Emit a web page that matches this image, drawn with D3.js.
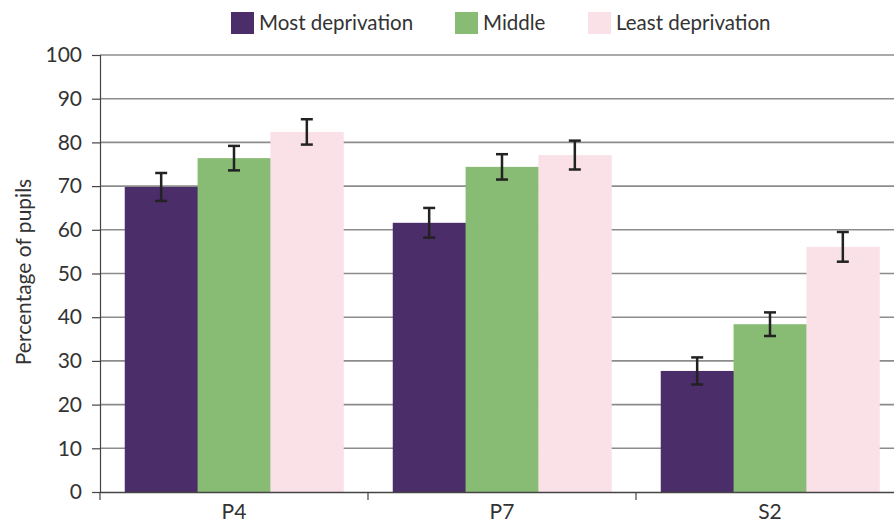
<!DOCTYPE html>
<html lang="en">
<head>
    <meta charset="utf-8">
    <title>Percentage of pupils by deprivation</title>
    <script src="https://cdn.jsdelivr.net/npm/d3@7/dist/d3.min.js"></script>
    <style>
        body { margin: 0; background: #fff; }
        text { font-family: Lato, "Open Sans", sans-serif; fill: #333; }
    </style>
</head>
<body>
<script>
    // categories and series
    var stages = ["P4", "P7", "S2"];
    var groups = ["Most deprivation", "Middle", "Least deprivation"];
    var colours = ["#4b2d69", "#88bc74", "#fae1e8"];
    // values per group, in order of stages
    var mostValues = [69.8, 61.6, 27.7];
    var middleValues = [76.4, 74.4, 38.4];
    var leastValues = [82.4, 77.1, 56.1];
    // error bar half widths
    var mostErr = [3.2, 3.4, 3.1];
    var middleErr = [2.8, 2.9, 2.7];
    var leastErr = [2.9, 3.3, 3.4];
    var yTicks = [0, 10, 20, 30, 40, 50, 60, 70, 80, 90, 100];

    var series = [mostValues, middleValues, leastValues];
    var errors = [mostErr, middleErr, leastErr];

    var width = 894, height = 522;
    var plotLeft = 100, plotTop = 55, plotBottom = 492;

    var svg = d3.select("body").append("svg")
        .attr("width", width)
        .attr("height", height);

    var x = d3.scaleBand().domain(stages).range([plotLeft, plotLeft + 804]).paddingInner(0).paddingOuter(0);
    var xg = d3.scaleBand().domain(groups).range([0, x.bandwidth()]).paddingOuter(0.34).paddingInner(0);
    var y = d3.scaleLinear().domain([0, 100]).range([plotBottom, plotTop]);

    // gridlines
    svg.append("g")
        .selectAll("line")
        .data(yTicks.filter(function (d) { return d > 0; }))
        .enter().append("line")
        .attr("x1", plotLeft).attr("x2", width)
        .attr("y1", function (d) { return y(d); })
        .attr("y2", function (d) { return y(d); })
        .attr("stroke", "#8c8c8c")
        .attr("stroke-width", 1.6);

    // bars
    var rows = [];
    stages.forEach(function (s, i) {
        groups.forEach(function (g, j) {
            rows.push({stage: s, group: g, k: j, value: series[j][i], err: errors[j][i]});
        });
    });

    svg.append("g")
        .selectAll("rect")
        .data(rows)
        .enter().append("rect")
        .attr("x", function (d) { return x(d.stage) + xg(d.group); })
        .attr("width", xg.bandwidth() + 0.5)
        .attr("y", function (d) { return y(d.value); })
        .attr("height", function (d) { return plotBottom - y(d.value); })
        .attr("fill", function (d) { return colours[d.k]; });

    // error bars
    function cx(d) { return x(d.stage) + xg(d.group) + xg.bandwidth() / 2; }
    var eb = svg.append("g").selectAll("g")
        .data(rows)
        .enter().append("g")
        .attr("stroke", "#222")
        .attr("stroke-width", 2.5);
    eb.append("line")
        .attr("x1", cx).attr("x2", cx)
        .attr("y1", function (d) { return y(d.value + d.err); })
        .attr("y2", function (d) { return y(d.value - d.err); });
    [1, -1].forEach(function (sgn) {
        eb.append("line")
            .attr("x1", function (d) { return cx(d) - 6; })
            .attr("x2", function (d) { return cx(d) + 6; })
            .attr("y1", function (d) { return y(d.value + sgn * d.err); })
            .attr("y2", function (d) { return y(d.value + sgn * d.err); });
    });

    // y axis
    var yAxis = svg.append("g")
        .attr("transform", "translate(" + plotLeft + ",0)")
        .call(d3.axisLeft(y).tickValues(yTicks).tickSize(8).tickPadding(10));
    yAxis.select(".domain").attr("stroke", "#444").attr("stroke-width", 1.2);
    yAxis.selectAll(".tick line").attr("stroke", "#444").attr("stroke-width", 1.2);
    yAxis.selectAll("text").style("font-size", "21px").attr("fill", "#333");

    // x axis
    var xAxis = svg.append("g")
        .attr("transform", "translate(0," + plotBottom + ")")
        .call(d3.axisBottom(x).tickSize(0).tickPadding(12));
    xAxis.select(".domain").attr("stroke", "#444").attr("stroke-width", 1.5);
    xAxis.selectAll("text").style("font-size", "21px").attr("fill", "#333");
    // category separators
    xAxis.append("g")
        .selectAll("line")
        .data(stages)
        .enter().append("line")
        .attr("x1", function (d) { return x(d); })
        .attr("x2", function (d) { return x(d); })
        .attr("y1", 0).attr("y2", 8)
        .attr("stroke", "#444").attr("stroke-width", 1.2);

    // y label
    svg.append("text")
        .attr("transform", "translate(31,272) rotate(-90)")
        .attr("text-anchor", "middle")
        .style("font-size", "21px")
        .text("Percentage of pupils");

    // legend
    var legendX = [231, 455, 588];
    var legend = svg.append("g").selectAll("g")
        .data(groups)
        .enter().append("g")
        .attr("transform", function (d, i) { return "translate(" + legendX[i] + ",12)"; });
    legend.append("rect")
        .attr("width", 23).attr("height", 22)
        .attr("fill", function (d, i) { return colours[i]; });
    legend.append("text")
        .attr("x", 28).attr("y", 18)
        .style("font-size", "20.5px")
        .text(function (d) { return d; });
</script>
</body>
</html>
